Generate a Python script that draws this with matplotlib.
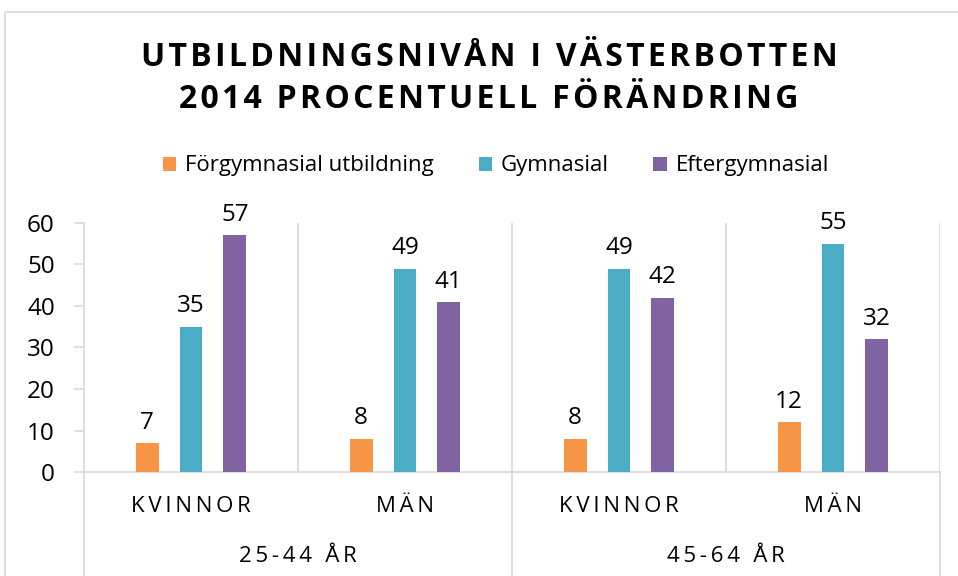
import matplotlib
matplotlib.use("Agg")
import matplotlib.pyplot as plt
from matplotlib.patches import Patch, Rectangle
from matplotlib.lines import Line2D
import matplotlib.transforms as mtransforms
import numpy as np

plt.rcParams['font.family'] = ['Open Sans', 'DejaVu Sans']

title_lines = ["UTBILDNINGSNIVÅN I VÄSTERBOTTEN", "2014 PROCENTUELL FÖRÄNDRING"]
categories = ["KVINNOR", "MÄN", "KVINNOR", "MÄN"]
groups = ["25-44 ÅR", "45-64 ÅR"]
series_names = ["Förgymnasial utbildning", "Gymnasial", "Eftergymnasial"]
forgymnasial = [7, 8, 8, 12]
gymnasial = [35, 49, 49, 55]
eftergymnasial = [57, 41, 42, 32]
colors = ["#F79646", "#4BACC6", "#8064A2"]
yticks = [0, 10, 20, 30, 40, 50, 60]

W, H = 958, 576
fig = plt.figure(figsize=(W / 100, H / 100), dpi=100)
grid_c = "#D9D9D9"

# chart border
fig.patches.append(Rectangle((5 / W, -0.01), 1.0, 1 - 12 / H + 0.01, transform=fig.transFigure,
                             fill=False, edgecolor=grid_c, linewidth=1.2))

ax = fig.add_axes([84 / W, 1 - 472 / H, (940 - 84) / W, (472 - 223) / H])
x = np.arange(len(categories))
offsets = [-0.205, 0.0, 0.205]
bw = 0.107
for vals, off, c, name in zip([forgymnasial, gymnasial, eftergymnasial], offsets, colors, series_names):
    bars = ax.bar(x + off, vals, width=bw, color=c, label=name, zorder=3)
    for b, v in zip(bars, vals):
        ax.annotate(str(v), (b.get_x() + b.get_width() / 2, v), xytext=(0, 6),
                    textcoords="offset points", ha="center", va="bottom", fontsize=17.5, color="#000000")

ax.set_xlim(-0.5, len(categories) - 0.5)
ax.set_ylim(0, 60)
ax.set_yticks(yticks)
ax.set_yticklabels([str(t) for t in yticks], fontsize=17.5)
ax.tick_params(axis='y', length=7, color=grid_c, width=1.2, pad=14)
ax.set_xticks([])
for s in ["top", "right"]:
    ax.spines[s].set_visible(False)
for s in ["left", "bottom"]:
    ax.spines[s].set_color(grid_c)
    ax.spines[s].set_linewidth(1.2)

# separators
for xv in [0.5, 1.5, 2.5, 3.5]:
    ax.axvline(xv, color=grid_c, linewidth=1.2, zorder=1)

trans = mtransforms.blended_transform_factory(ax.transData, fig.transFigure)
for xv in [-0.5, 1.5, 3.5]:
    ax.add_line(Line2D([xv, xv], [1 - 472 / H, 0], transform=trans, color=grid_c,
                       linewidth=1.2, clip_on=False))

def spaced(s, sep="\u2009"):
    return sep.join(list(s))

for xi, cat in zip(x, categories):
    ax.text(xi, 1 - 506 / H, spaced(cat), transform=trans, ha="center", va="center",
            fontsize=16, color="#000000")
for gi, g in enumerate(groups):
    ax.text(2 * gi + 0.5, 1 - 557 / H, spaced(g), transform=trans,
            ha="center", va="center", fontsize=16, color="#000000")

# title
fig.text(489 / W, 1 - 57 / H, spaced(title_lines[0], "\u200a"), ha="center", va="center",
         fontsize=23, fontweight="bold", color="#000000")
fig.text(489 / W, 1 - 100 / H, spaced(title_lines[1], "\u200a"), ha="center", va="center",
         fontsize=23, fontweight="bold", color="#000000")

handles = [Patch(facecolor=c, label=n) for c, n in zip(colors, series_names)]
fig.legend(handles=handles, loc="center", bbox_to_anchor=(496 / W, 1 - 166 / H), ncol=3,
           frameon=False, fontsize=16, handlelength=0.6, handleheight=0.6, handletextpad=0.4,
           columnspacing=2.0)

fig.savefig("out.png", dpi=100)
